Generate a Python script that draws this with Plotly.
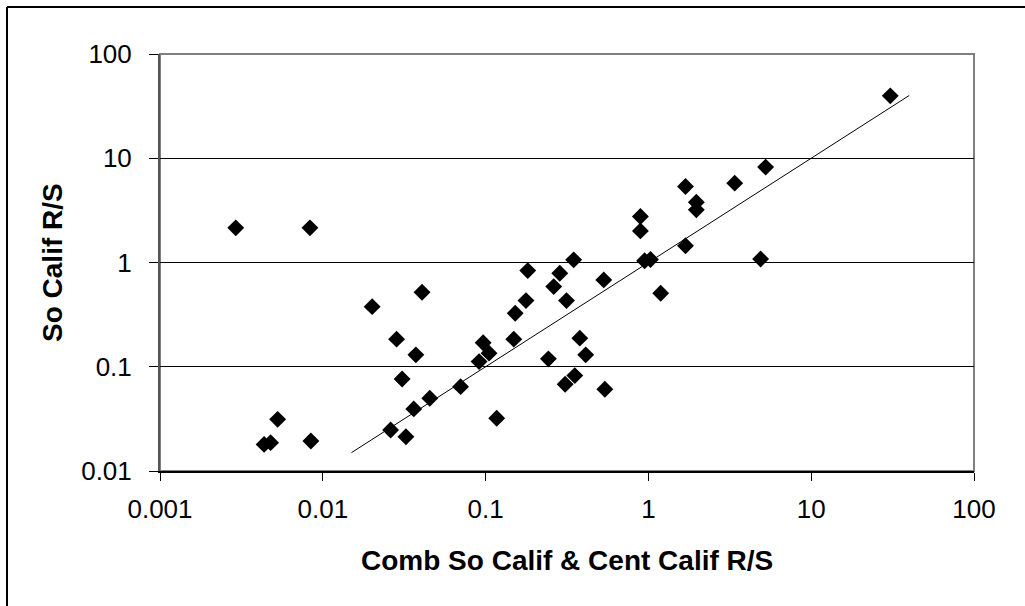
import numpy as np
import plotly.graph_objects as go

# Combined So Calif & Cent Calif R/S (x) vs So Calif R/S (y)
comb_rs = [
    0.00292, 0.00834, 0.00436, 0.00478, 0.00528, 0.00845,
    0.0201, 0.0407, 0.0284, 0.0373, 0.0307, 0.0702,
    0.0454, 0.0362, 0.0261, 0.0324, 0.0912, 0.0966,
    0.105, 0.117, 0.149, 0.152, 0.177, 0.1815,
    0.243, 0.262, 0.2855, 0.314, 0.3475, 0.308,
    0.353, 0.379, 0.412, 0.532, 0.540, 0.893,
    0.893, 0.948, 1.03, 1.19, 1.69, 1.97,
    1.97, 1.69, 3.39, 5.25, 4.89, 30.6,
]
so_calif_rs = [
    2.15, 2.15, 0.0180, 0.0187, 0.0313, 0.0194,
    0.377, 0.519, 0.184, 0.130, 0.0764, 0.0644,
    0.0499, 0.0394, 0.0247, 0.0213, 0.112, 0.170,
    0.135, 0.0321, 0.184, 0.326, 0.431, 0.836,
    0.119, 0.587, 0.789, 0.431, 1.06, 0.068,
    0.0822, 0.188, 0.130, 0.681, 0.0608, 2.76,
    2.01, 1.04, 1.07, 0.507, 5.35, 3.79,
    3.20, 1.45, 5.77, 8.22, 1.08, 39.7,
]

# Power-law trend line y = a * x^b over its drawn span
trend_coef = 1.0
trend_power = 1.0
trend_span = [0.015, 40.0]

tick_vals = [0.001, 0.01, 0.1, 1, 10, 100]
x_tick_text = ["0.001", "0.01", "0.1", "1", "10", "100"]
y_tick_vals = [0.01, 0.1, 1, 10, 100]
y_tick_text = ["0.01", "0.1", "1", "10", "100"]

x_title = "Comb So Calif & Cent Calif R/S"
y_title = "So Calif R/S"

FONT = "Arial, Liberation Sans, sans-serif"
W, H = 1025, 606
L, R, T, B = 160, 51, 54, 135
PW, PH = W - L - R, H - T - B


def px_to_paper_x(px):
    return (px - L) / PW


def px_to_paper_y(py):
    return (H - B - py) / PH


trend_x = np.array(trend_span)
trend_y = trend_coef * trend_x ** trend_power

fig = go.Figure()
fig.add_trace(go.Scatter(
    x=trend_x, y=trend_y, mode="lines",
    line=dict(color="black", width=1),
    hoverinfo="skip", showlegend=False,
))
fig.add_trace(go.Scatter(
    x=comb_rs, y=so_calif_rs, mode="markers",
    marker=dict(symbol="diamond", size=13, color="black",
                line=dict(width=0)),
    showlegend=False,
))

fig.update_xaxes(
    type="log", range=[-3, 2],
    tickvals=tick_vals, ticktext=x_tick_text,
    ticks="outside", ticklen=8, tickwidth=1, tickcolor="black",
    showgrid=False, zeroline=False,
    showline=True, linecolor="black", linewidth=2,
    tickfont=dict(family=FONT, size=26, color="black"),
    ticklabelstandoff=6,
    mirror=False,
)
fig.update_yaxes(
    type="log", range=[-2, 2],
    tickvals=y_tick_vals, ticktext=y_tick_text,
    ticks="outside", ticklen=9, tickwidth=1, tickcolor="black",
    showgrid=True, gridcolor="black", gridwidth=1,
    zeroline=False,
    showline=True, linecolor="#555555", linewidth=2,
    tickfont=dict(family=FONT, size=26, color="black"),
    ticklabelstandoff=12,
)

fig.update_layout(
    width=W, height=H,
    margin=dict(l=L, r=R, t=T, b=B, autoexpand=False),
    paper_bgcolor="white", plot_bgcolor="white",
    showlegend=False,
    shapes=[
        # plot-area frame (top and right in grey)
        dict(type="rect", xref="paper", yref="paper",
             x0=0, x1=1, y0=0, y1=1,
             line=dict(color="#808080", width=2), layer="below"),
        # outer chart border: left and top edges
        dict(type="line", xref="paper", yref="paper",
             x0=px_to_paper_x(7), x1=px_to_paper_x(7),
             y0=px_to_paper_y(H), y1=px_to_paper_y(7),
             line=dict(color="black", width=2)),
        dict(type="line", xref="paper", yref="paper",
             x0=px_to_paper_x(7), x1=px_to_paper_x(W),
             y0=px_to_paper_y(7), y1=px_to_paper_y(7),
             line=dict(color="black", width=2)),
    ],
    annotations=[
        dict(text=f"<b>{x_title}</b>", xref="paper", yref="paper",
             x=px_to_paper_x(567), y=px_to_paper_y(560),
             xanchor="center", yanchor="middle", showarrow=False,
             font=dict(family=FONT, size=28, color="black")),
        dict(text=f"<b>{y_title}</b>", xref="paper", yref="paper",
             x=px_to_paper_x(52), y=px_to_paper_y(263),
             xanchor="center", yanchor="middle", showarrow=False,
             textangle=-90,
             font=dict(family=FONT, size=28, color="black")),
    ],
)

fig.write_html("out.html")
